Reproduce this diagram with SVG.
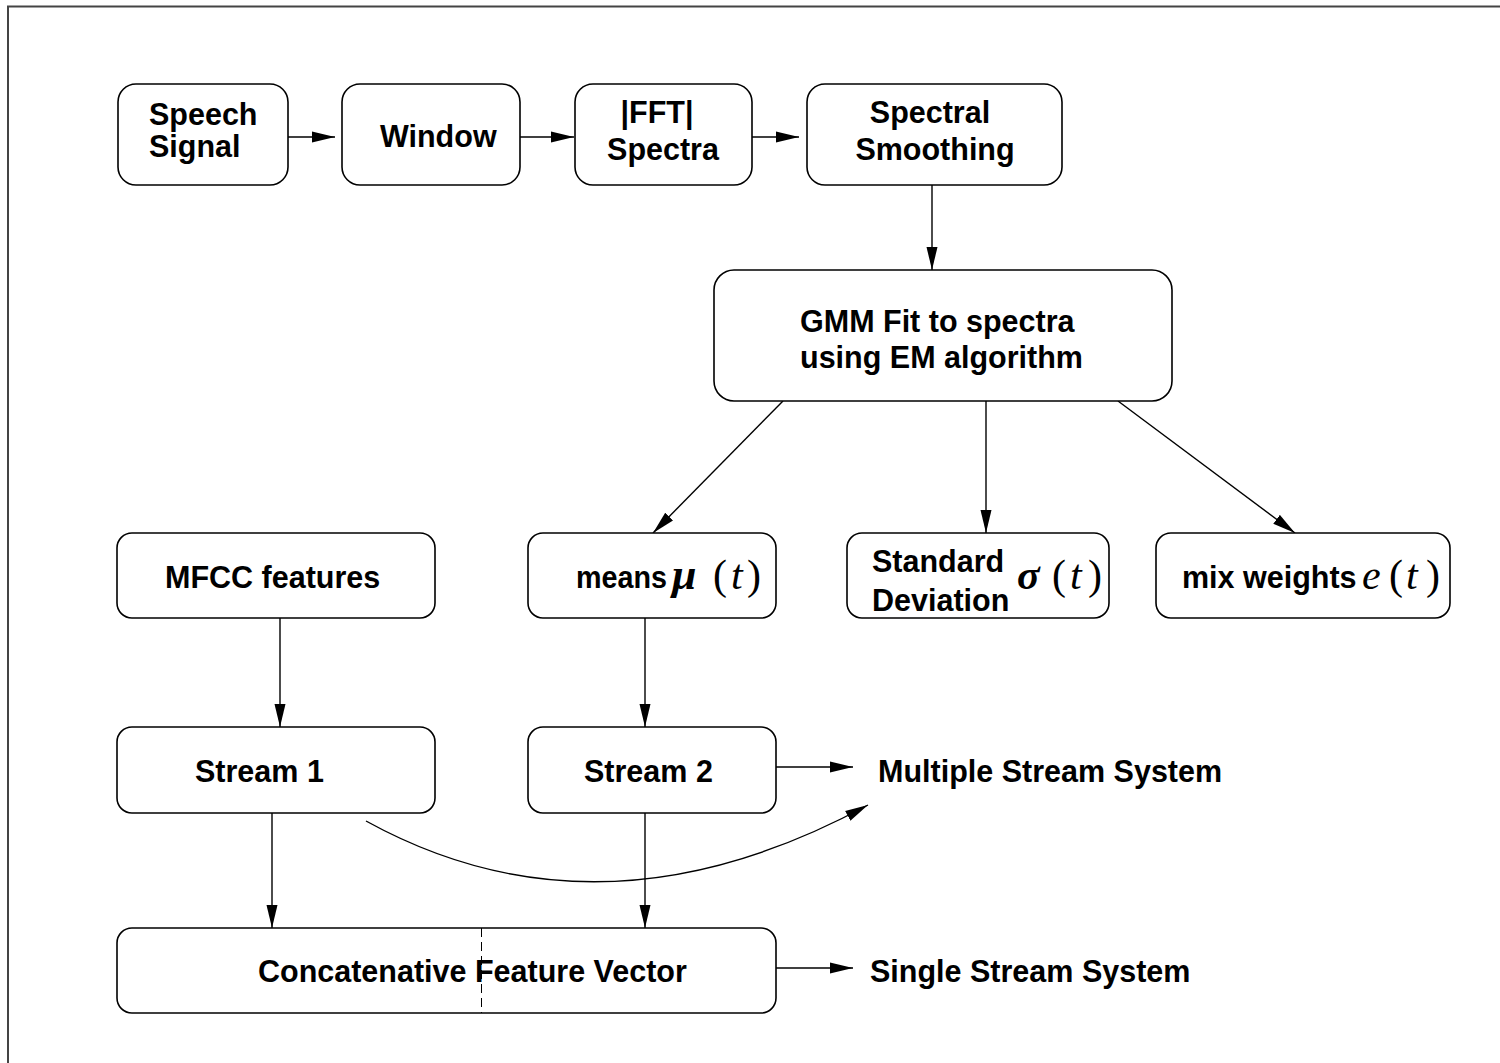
<svg xmlns="http://www.w3.org/2000/svg" width="1500" height="1063" viewBox="0 0 1500 1063">
<defs>
<style>
.box{fill:#fff;stroke:#000;stroke-width:1.6}
.t{font-family:"Liberation Sans",Arial,sans-serif;font-weight:bold;font-size:30.5px;fill:#000}
.m{font-family:"Liberation Serif","Times New Roman",serif;font-size:42px;fill:#000}
.i{font-style:italic}
.bi{font-style:italic;font-weight:bold}
.c{fill:none;stroke:#000;stroke-width:1.4}
</style>
<marker id="ah" markerUnits="userSpaceOnUse" markerWidth="24" markerHeight="12" refX="23" refY="6" orient="auto">
<path d="M0,0.5 L23,6 L0,11.5 z" fill="#000"/>
</marker>
</defs>
<rect width="1500" height="1063" fill="#fff"/>
<path d="M8,1063 L8,6.5 L1500,6.5" fill="none" stroke="#444" stroke-width="2"/>

<g id="connectors">
<line class="c" x1="288" y1="137" x2="335" y2="137" marker-end="url(#ah)"/>
<line class="c" x1="520" y1="137" x2="574" y2="137" marker-end="url(#ah)"/>
<line class="c" x1="752" y1="137" x2="799" y2="137" marker-end="url(#ah)"/>
<line class="c" x1="932" y1="185" x2="932" y2="270" marker-end="url(#ah)"/>
<line class="c" x1="783" y1="401" x2="653" y2="533" marker-end="url(#ah)"/>
<line class="c" x1="986" y1="401" x2="986" y2="533" marker-end="url(#ah)"/>
<line class="c" x1="1118" y1="401" x2="1295" y2="533" marker-end="url(#ah)"/>
<line class="c" x1="280" y1="618" x2="280" y2="727" marker-end="url(#ah)"/>
<line class="c" x1="645" y1="618" x2="645" y2="727" marker-end="url(#ah)"/>
<line class="c" x1="272" y1="813" x2="272" y2="928" marker-end="url(#ah)"/>
<line class="c" x1="645" y1="813" x2="645" y2="928" marker-end="url(#ah)"/>
<line class="c" x1="776" y1="767" x2="853" y2="767" marker-end="url(#ah)"/>
<line class="c" x1="776" y1="968" x2="853" y2="968" marker-end="url(#ah)"/>
<path class="c" d="M366,821 Q600,950 868,805" marker-end="url(#ah)"/>
</g>

<g id="speech">
<rect class="box" x="118" y="84" width="170" height="101" rx="18"/>
<text class="t" x="149" y="125">Speech</text>
<text class="t" x="149" y="157">Signal</text>
</g>
<g id="window">
<rect class="box" x="342" y="84" width="178" height="101" rx="18"/>
<text class="t" x="380" y="147">Window</text>
</g>
<g id="fft">
<rect class="box" x="575" y="84" width="177" height="101" rx="18"/>
<text class="t" x="657" y="123" text-anchor="middle">|FFT|</text>
<text class="t" x="663" y="160" text-anchor="middle">Spectra</text>
</g>
<g id="smoothing">
<rect class="box" x="807" y="84" width="255" height="101" rx="18"/>
<text class="t" x="930" y="123" text-anchor="middle">Spectral</text>
<text class="t" x="935" y="160" text-anchor="middle">Smoothing</text>
</g>
<g id="gmm">
<rect class="box" x="714" y="270" width="458" height="131" rx="20"/>
<text class="t" x="800" y="332">GMM Fit to spectra</text>
<text class="t" x="800" y="368">using EM algorithm</text>
</g>
<g id="mfcc">
<rect class="box" x="117" y="533" width="318" height="85" rx="15"/>
<text class="t" x="165" y="588">MFCC features</text>
</g>
<g id="means">
<rect class="box" x="528" y="533" width="248" height="85" rx="15"/>
<text class="t" x="576" y="588" textLength="91" lengthAdjust="spacingAndGlyphs">means</text>
<text class="m" y="589"><tspan class="bi" x="672" font-size="44">μ</tspan><tspan x="713">(</tspan><tspan class="i" x="731">t</tspan><tspan x="747">)</tspan></text>
</g>
<g id="stddev">
<rect class="box" x="847" y="533" width="262" height="85" rx="15"/>
<text class="t" x="872" y="572">Standard</text>
<text class="t" x="872" y="611">Deviation</text>
<text class="m" y="589"><tspan class="bi" x="1017">σ</tspan><tspan x="1052">(</tspan><tspan class="i" x="1070">t</tspan><tspan x="1088">)</tspan></text>
</g>
<g id="mixweights">
<rect class="box" x="1156" y="533" width="294" height="85" rx="15"/>
<text class="t" x="1182" y="588">mix weights</text>
<text class="m" y="589"><tspan class="i" x="1362">e</tspan><tspan x="1389">(</tspan><tspan class="i" x="1406">t</tspan><tspan x="1426">)</tspan></text>
</g>
<g id="stream1">
<rect class="box" x="117" y="727" width="318" height="86" rx="15"/>
<text class="t" x="195" y="782">Stream 1</text>
</g>
<g id="stream2">
<rect class="box" x="528" y="727" width="248" height="86" rx="15"/>
<text class="t" x="584" y="782">Stream 2</text>
</g>
<g id="concat">
<rect class="box" x="117" y="928" width="659" height="85" rx="15"/>
<line x1="481.5" y1="928" x2="481.5" y2="1013" stroke="#000" stroke-width="1" stroke-dasharray="9,5"/>
<text class="t" x="258" y="982">Concatenative Feature Vector</text>
</g>
<g id="multiple">
<text class="t" x="878" y="782">Multiple Stream System</text>
</g>
<g id="single">
<text class="t" x="870" y="982">Single Stream System</text>
</g>
</svg>
